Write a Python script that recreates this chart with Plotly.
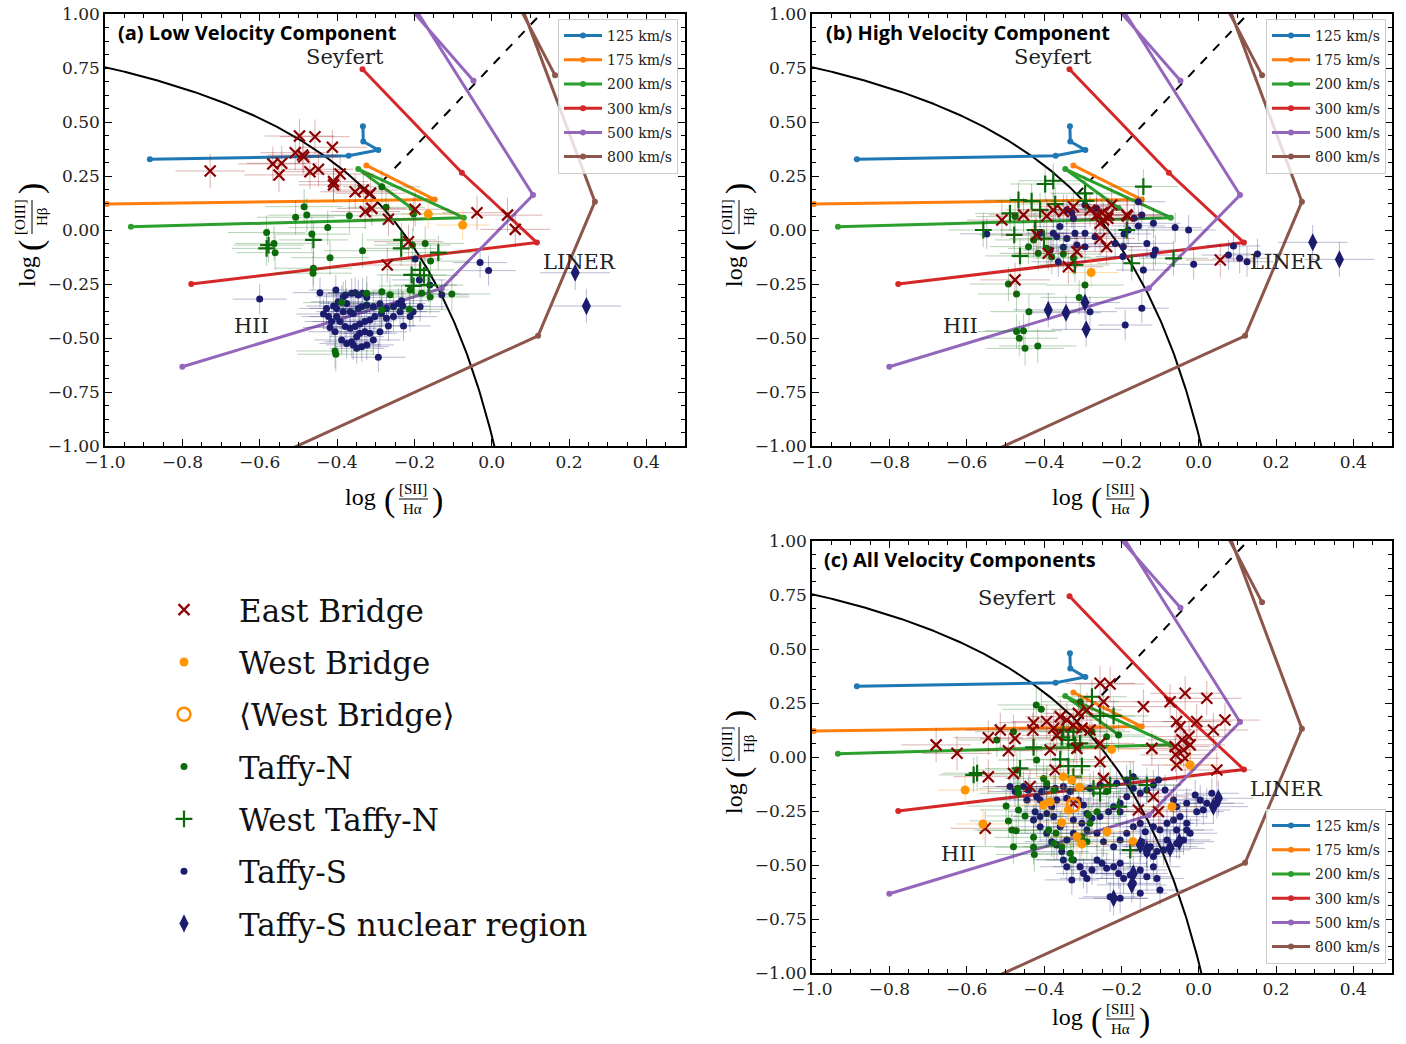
import numpy as np
import plotly.graph_objects as go

W, H = 1406, 1044

# ---------------- tick labels ----------------
X_TICKS = [-1.0, -0.8, -0.6, -0.4, -0.2, 0.0, 0.2, 0.4]
X_TICKTEXT = ["\u22121.0", "\u22120.8", "\u22120.6", "\u22120.4", "\u22120.2", "0.0", "0.2", "0.4"]
Y_TICKS = [-1.0, -0.75, -0.5, -0.25, 0.0, 0.25, 0.5, 0.75, 1.0]
Y_TICKTEXT = ["\u22121.00", "\u22120.75", "\u22120.50", "\u22120.25", "0.00", "0.25", "0.50", "0.75", "1.00"]

# ---------------- shock model grids ----------------
MODEL_LABELS = ["125 km/s", "175 km/s", "200 km/s", "300 km/s", "500 km/s", "800 km/s"]
MODEL_COLORS = ["#1f77b4", "#ff7f0e", "#2ca02c", "#d62728", "#9467bd", "#8c564b"]
MODEL_X = [
    [-0.884, -0.370, -0.293, -0.332, -0.333],
    [-0.995, -0.147, -0.324],
    [-0.933, -0.072, -0.345, -0.207],
    [-0.334, -0.077, 0.117, -0.777],
    [-0.047, -0.237, -0.217, 0.107, -0.129, -0.800],
    [-0.564, 0.120, 0.267, 0.064, 0.052, 0.164],
]
MODEL_Y = [
    [0.327, 0.344, 0.370, 0.410, 0.480],
    [0.120, 0.141, 0.299],
    [0.015, 0.057, 0.282, 0.102],
    [0.744, 0.265, -0.058, -0.250],
    [0.691, 1.080, 1.080, 0.162, -0.270, -0.633],
    [-1.050, -0.490, 0.131, 1.100, 1.100, 0.716],
]

# Kewley et al. (2001) maximum starburst line and Kewley et al. (2006) Seyfert/LINER line
K01_A, K01_B, K01_C = 0.72, 0.32, 1.30
K06_M, K06_B = 1.89, 0.76
K06_X0, K06_X1 = -0.315, 0.13

# ---------------- panel (a): low velocity component ----------------
EB_A = [(-0.497, 0.435), (-0.457, 0.432), (-0.412, 0.383), (-0.508, 0.358), (-0.489, 0.347), (-0.486, 0.338),
        (-0.566, 0.306), (-0.543, 0.309), (-0.550, 0.255), (-0.728, 0.273), (-0.470, 0.270), (-0.448, 0.281),
        (-0.409, 0.224), (-0.409, 0.209), (-0.392, 0.259), (-0.353, 0.177), (-0.332, 0.185), (-0.314, 0.170),
        (-0.327, 0.085), (-0.310, 0.100), (-0.267, 0.050), (-0.198, 0.096), (-0.038, 0.080), (0.041, 0.069),
        (0.061, 0.003), (-0.215, -0.054), (-0.270, -0.162)]
WB_A = [(-0.164, 0.074), (-0.075, 0.023)]
TN_A = [(-0.485, 0.108), (-0.507, 0.059), (-0.478, 0.069), (-0.368, 0.066), (-0.284, 0.200), (-0.273, 0.105),
        (-0.202, 0.074), (-0.582, -0.012), (-0.563, -0.062), (-0.465, -0.019), (-0.424, 0.011), (-0.418, -0.128),
        (-0.334, -0.096), (-0.172, -0.062), (-0.560, -0.105), (-0.461, -0.177), (-0.462, -0.200), (-0.205, -0.070),
        (-0.158, -0.144), (-0.323, -0.293), (-0.284, -0.286), (-0.263, -0.300), (-0.211, -0.278), (-0.181, -0.293),
        (-0.159, -0.310), (-0.103, -0.296), (-0.388, -0.336), (-0.405, -0.560), (-0.403, -0.575), (-0.284, -0.370),
        (-0.213, -0.367)]
WTN_A = [(-0.582, -0.085), (-0.577, -0.070), (-0.461, -0.046), (-0.233, -0.046), (-0.234, -0.085), (-0.138, -0.105),
         (-0.185, -0.185), (-0.207, -0.208), (-0.175, -0.210), (-0.202, -0.259), (-0.163, -0.255)]
TS_A = [(-0.444, -0.290), (-0.403, -0.278), (-0.427, -0.363), (-0.435, -0.389), (-0.422, -0.401), (-0.409, -0.352),
        (-0.401, -0.363), (-0.384, -0.309), (-0.378, -0.301), (-0.362, -0.293), (-0.353, -0.290), (-0.345, -0.301),
        (-0.334, -0.293), (-0.323, -0.312), (-0.375, -0.340), (-0.366, -0.378), (-0.358, -0.386), (-0.345, -0.363),
        (-0.336, -0.355), (-0.323, -0.347), (-0.306, -0.355), (-0.289, -0.342), (-0.272, -0.363), (-0.254, -0.355),
        (-0.241, -0.340), (-0.233, -0.327), (-0.230, -0.352), (-0.237, -0.378), (-0.254, -0.401), (-0.272, -0.409),
        (-0.285, -0.386), (-0.302, -0.401), (-0.315, -0.417), (-0.328, -0.424), (-0.341, -0.435), (-0.353, -0.447),
        (-0.366, -0.455), (-0.379, -0.447), (-0.392, -0.424), (-0.401, -0.401), (-0.414, -0.424), (-0.418, -0.451),
        (-0.405, -0.471), (-0.388, -0.509), (-0.375, -0.525), (-0.362, -0.517), (-0.349, -0.494), (-0.341, -0.478),
        (-0.328, -0.471), (-0.315, -0.478), (-0.306, -0.509), (-0.323, -0.532), (-0.336, -0.540), (-0.349, -0.548),
        (-0.358, -0.532), (-0.289, -0.471), (-0.267, -0.444), (-0.228, -0.444), (-0.211, -0.401), (-0.203, -0.378),
        (-0.185, -0.355), (-0.160, -0.255), (-0.293, -0.589), (-0.384, -0.378), (-0.397, -0.332), (-0.600, -0.320),
        (-0.030, -0.151), (-0.008, -0.188), (-0.198, -0.134), (-0.129, -0.300), (-0.187, -0.231)]
TSN_A = [(0.216, -0.198), (0.245, -0.352)]

# ---------------- panel (b): high velocity component ----------------
EB_B = [(-0.509, 0.046), (-0.453, 0.070), (-0.393, 0.065), (-0.376, 0.093), (-0.350, 0.085), (-0.324, 0.108),
        (-0.281, 0.093), (-0.264, 0.070), (-0.250, 0.080), (-0.246, 0.046), (-0.255, 0.031), (-0.235, 0.054),
        (-0.225, 0.116), (-0.233, 0.070), (-0.186, 0.070), (-0.255, -0.039), (-0.238, -0.077), (-0.315, -0.100),
        (-0.389, -0.108), (-0.337, -0.170), (-0.475, -0.231), (-0.419, -0.023), (-0.184, 0.065), (0.056, -0.139)]
WB_B = [(-0.278, -0.197)]
TN_B = [(-0.440, -0.077), (-0.415, -0.108), (-0.393, -0.085), (-0.380, -0.125), (-0.492, -0.250), (-0.471, -0.296),
        (-0.439, -0.378), (-0.471, -0.470), (-0.453, -0.466), (-0.464, -0.501), (-0.449, -0.548), (-0.416, -0.537),
        (-0.309, -0.312), (-0.294, -0.255), (-0.350, -0.111), (-0.324, -0.130), (-0.427, -0.046), (-0.475, 0.062)]
WTN_B = [(-0.397, 0.213), (-0.376, 0.228), (-0.466, 0.139), (-0.432, 0.134), (-0.488, 0.077), (-0.557, 0.000),
         (-0.477, -0.023), (-0.462, -0.120), (-0.410, 0.093), (-0.371, 0.120), (-0.294, 0.170), (-0.292, 0.135),
         (-0.320, -0.162), (-0.173, -0.154), (-0.423, 0.000), (-0.400, -0.040), (-0.143, 0.201), (-0.186, 0.000),
         (-0.065, -0.131)]
TS_B = [(-0.548, -0.018), (-0.410, -0.015), (-0.376, -0.015), (-0.367, -0.031), (-0.341, 0.093), (-0.328, 0.080),
        (-0.324, 0.054), (-0.359, 0.016), (-0.341, -0.039), (-0.320, -0.015), (-0.294, -0.015), (-0.294, 0.116),
        (-0.264, 0.100), (-0.315, -0.069), (-0.294, -0.077), (-0.268, -0.031), (-0.363, -0.147), (-0.350, -0.080),
        (-0.195, -0.077), (-0.196, -0.123), (-0.182, 0.000), (-0.216, -0.062), (-0.281, -0.378), (-0.190, -0.440),
        (-0.384, -0.093), (-0.156, 0.131), (-0.147, 0.070), (-0.167, 0.054), (-0.117, 0.031), (-0.156, 0.019),
        (-0.061, 0.011), (-0.026, 0.000), (-0.193, -0.018), (-0.134, -0.062), (-0.112, -0.093), (-0.117, -0.116),
        (-0.013, -0.159), (-0.143, -0.185), (-0.147, -0.362), (0.090, -0.074), (0.077, -0.116), (0.106, -0.131),
        (0.125, -0.147), (0.152, -0.111)]
TSN_B = [(-0.389, -0.370), (-0.343, -0.383), (-0.294, -0.336), (-0.291, -0.460), (0.295, -0.057), (0.364, -0.136)]

# ---------------- panel (c): all velocity components ----------------
EB_C = [(-0.679, 0.056), (-0.625, 0.017), (-0.544, 0.089), (-0.513, 0.125), (-0.475, 0.086), (-0.544, -0.091),
        (-0.552, -0.330), (-0.492, 0.029), (-0.479, -0.076), (-0.436, -0.137), (-0.427, 0.159), (-0.429, 0.125),
        (-0.393, 0.164), (-0.375, 0.133), (-0.367, 0.100), (-0.358, 0.187), (-0.341, 0.171), (-0.324, 0.148),
        (-0.311, 0.202), (-0.302, 0.133), (-0.289, 0.218), (-0.281, 0.125), (-0.255, 0.341), (-0.229, 0.338),
        (-0.246, 0.256), (-0.384, 0.032), (-0.315, 0.040), (-0.255, 0.063), (-0.255, -0.022), (-0.246, -0.099),
        (-0.371, -0.060), (-0.324, -0.214), (-0.143, 0.233), (-0.074, 0.256), (-0.035, 0.295), (0.021, 0.272),
        (-0.057, 0.164), (-0.048, 0.140), (-0.005, 0.164), (0.038, 0.125), (0.068, 0.171), (-0.121, 0.040),
        (-0.061, 0.048), (-0.039, 0.032), (-0.022, 0.056), (-0.035, -0.006), (-0.057, -0.037), (0.047, -0.060),
        (-0.117, -0.184), (-0.156, -0.245), (-0.104, -0.253), (-0.043, 0.080), (-0.025, 0.095), (-0.060, 0.010)]
WB_C = [(-0.604, -0.153), (-0.558, -0.310), (-0.350, -0.091), (-0.328, -0.107), (-0.308, -0.140), (-0.225, 0.035),
        (-0.401, -0.222), (-0.384, -0.207), (-0.337, -0.245), (-0.354, -0.304), (-0.315, -0.369), (-0.302, -0.403),
        (-0.237, -0.346), (-0.170, -0.392), (-0.069, -0.230), (-0.022, -0.037)]
WBAVG_C = [(-0.324, -0.222)]
TN_C = [(-0.420, 0.241), (-0.407, 0.221), (-0.479, 0.117), (-0.522, 0.079), (-0.419, -0.014), (-0.470, -0.060),
        (-0.401, -0.099), (-0.468, -0.145), (-0.466, -0.168), (-0.498, -0.227), (-0.466, -0.245), (-0.449, -0.273),
        (-0.492, -0.296), (-0.483, -0.338), (-0.472, -0.341), (-0.479, -0.415), (-0.427, -0.372), (-0.427, -0.418),
        (-0.425, -0.451), (-0.388, -0.338), (-0.374, -0.400), (-0.369, -0.353), (-0.354, -0.415), (-0.332, -0.446),
        (-0.328, -0.474), (-0.302, -0.369), (-0.289, -0.392), (-0.281, -0.307), (-0.285, -0.268), (-0.263, -0.253),
        (-0.238, -0.160), (-0.238, 0.094), (-0.207, 0.102), (-0.306, 0.256), (-0.276, 0.117), (-0.375, -0.153),
        (-0.393, -0.122)]
WTN_C = [(-0.582, -0.083), (-0.573, -0.075), (-0.462, -0.053), (-0.354, 0.091), (-0.337, 0.079), (-0.324, 0.117),
         (-0.350, 0.125), (-0.320, 0.056), (-0.307, 0.063), (-0.276, 0.279), (-0.358, -0.011), (-0.337, -0.042),
         (-0.302, -0.042), (-0.324, -0.091), (-0.255, 0.190), (-0.220, 0.190), (-0.272, -0.145), (-0.255, -0.168),
         (-0.177, -0.099), (-0.207, -0.230), (-0.134, -0.130), (-0.177, -0.431), (-0.229, -0.130), (-0.427, 0.045)]
TS_C = [(-0.488, -0.137), (-0.475, -0.160), (-0.453, -0.137), (-0.440, -0.153), (-0.419, -0.184), (-0.406, -0.160),
        (-0.393, -0.137), (-0.371, -0.145), (-0.350, -0.137), (-0.332, -0.160), (-0.341, -0.191), (-0.367, -0.199),
        (-0.380, -0.230), (-0.393, -0.261), (-0.410, -0.276), (-0.423, -0.253), (-0.427, -0.292), (-0.410, -0.323),
        (-0.393, -0.353), (-0.380, -0.392), (-0.367, -0.407), (-0.354, -0.438), (-0.350, -0.477), (-0.341, -0.508),
        (-0.324, -0.477), (-0.307, -0.508), (-0.298, -0.539), (-0.328, -0.569), (-0.289, -0.562), (-0.276, -0.523),
        (-0.263, -0.477), (-0.250, -0.492), (-0.238, -0.515), (-0.220, -0.508), (-0.203, -0.492), (-0.207, -0.539),
        (-0.194, -0.562), (-0.177, -0.546), (-0.169, -0.585), (-0.151, -0.523), (-0.134, -0.554), (-0.117, -0.508),
        (-0.108, -0.562), (-0.100, -0.616), (-0.151, -0.631), (-0.203, -0.654), (-0.229, -0.647), (-0.220, -0.415),
        (-0.203, -0.384), (-0.186, -0.353), (-0.169, -0.323), (-0.151, -0.307), (-0.138, -0.346), (-0.117, -0.323),
        (-0.100, -0.338), (-0.082, -0.307), (-0.065, -0.292), (-0.048, -0.276), (-0.031, -0.307), (-0.022, -0.353),
        (-0.039, -0.384), (-0.057, -0.400), (-0.074, -0.415), (-0.091, -0.430), (-0.108, -0.438), (-0.125, -0.415),
        (-0.147, -0.392), (-0.134, -0.446), (-0.117, -0.461), (-0.082, -0.384), (-0.057, -0.338), (-0.031, -0.338),
        (-0.005, -0.253), (0.012, -0.245), (0.021, -0.214), (0.004, -0.199), (0.034, -0.168), (0.047, -0.214),
        (-0.009, -0.176), (-0.031, -0.214), (-0.057, -0.230), (-0.065, -0.199), (-0.087, -0.153), (-0.104, -0.106),
        (-0.117, -0.130), (-0.134, -0.153), (-0.151, -0.168), (-0.169, -0.145), (-0.186, -0.184), (-0.203, -0.214),
        (-0.220, -0.230), (-0.233, -0.253), (-0.255, -0.276), (-0.276, -0.284), (-0.289, -0.261), (-0.298, -0.222),
        (-0.311, -0.199), (-0.281, -0.145), (-0.255, -0.130), (-0.212, -0.122), (-0.186, -0.106), (-0.169, -0.091),
        (-0.203, -0.253), (-0.302, -0.307), (-0.324, -0.292), (-0.263, -0.353), (-0.246, -0.392), (-0.324, -0.353),
        (-0.289, -0.338), (-0.375, -0.276), (-0.358, -0.323), (-0.341, -0.384), (-0.410, -0.199), (-0.444, -0.199)]
TSN_C = [(0.051, -0.191), (0.038, -0.230), (-0.050, -0.392), (-0.074, -0.423), (-0.169, -0.539), (-0.173, -0.592),
         (-0.220, -0.654), (-0.151, -0.407), (-0.134, -0.430)]

# typical 1-sigma uncertainties per sample (x, y)
ERR_EB = (0.09, 0.08)
ERR_WB = (0.07, 0.07)
ERR_TN = (0.10, 0.08)
ERR_WTN = (0.09, 0.08)
ERR_TS = (0.07, 0.07)
ERR_TSN = (0.09, 0.08)

# ---------------- styling ----------------
SERIF = "DejaVu Serif"
SERIF2 = "Liberation Serif"
C_EB, C_WB, C_TN, C_TS = "#8b0000", "#ff9500", "#0b6b0b", "#1c1c6e"
E_EB, E_WB, E_TN, E_TS = "rgba(139,0,0,0.30)", "rgba(255,150,0,0.35)", "rgba(11,107,11,0.30)", "rgba(28,28,110,0.30)"

GROUPS = [
    # key, name, color, errcolor, symbol, size, linewidth, err
    ("EB", "East Bridge", C_EB, E_EB, "x-thin", 11, 2.2, ERR_EB),
    ("WB", "West Bridge", C_WB, E_WB, "circle", 9, 0, ERR_WB),
    ("WBAVG", "\u27e8West Bridge\u27e9", "#ff8c00", E_WB, "circle-open", 13, 2.5, None),
    ("TN", "Taffy-N", C_TN, E_TN, "circle", 7, 0, ERR_TN),
    ("WTN", "West Taffy-N", C_TN, E_TN, "cross-thin", 12, 2.2, ERR_WTN),
    ("TS", "Taffy-S", C_TS, E_TS, "circle", 7, 0, ERR_TS),
    ("TSN", "Taffy-S nuclear region", C_TS, E_TS, "diamond-tall", 13, 0, ERR_TSN),
]

PANEL_DATA = [
    {"EB": EB_A, "WB": WB_A, "WBAVG": [], "TN": TN_A, "WTN": WTN_A, "TS": TS_A, "TSN": TSN_A},
    {"EB": EB_B, "WB": WB_B, "WBAVG": [], "TN": TN_B, "WTN": WTN_B, "TS": TS_B, "TSN": TSN_B},
    {"EB": EB_C, "WB": WB_C, "WBAVG": WBAVG_C, "TN": TN_C, "WTN": WTN_C, "TS": TS_C, "TSN": TSN_C},
]
# draw order inside each panel
DRAW_ORDER = ["TS", "TN", "WTN", "EB", "WB", "WBAVG", "TSN"]

PANELS = [
    dict(xa="x", ya="y", xd=[105 / W, 685 / W], yd=[1 - 446 / H, 1 - 14 / H], legend="legend",
         title="(a) Low Velocity Component", tpos=(116, 32), dx=0, dy=0, ldy=0,
         regions=[("Seyfert", -0.379, 0.800), ("LINER", 0.226, -0.148), ("HII", -0.620, -0.444)]),
    dict(xa="x2", ya="y2", xd=[812 / W, 1392 / W], yd=[1 - 446 / H, 1 - 14 / H], legend="legend2",
         title="(b) High Velocity Component", tpos=(824, 32), dx=707, dy=0, ldy=0,
         regions=[("Seyfert", -0.376, 0.800), ("LINER", 0.226, -0.148), ("HII", -0.617, -0.444)]),
    dict(xa="x3", ya="y3", xd=[812 / W, 1392 / W], yd=[1 - 973 / H, 1 - 541 / H], legend="legend3",
         title="(c) All Velocity Components", tpos=(822, 559), dx=707, dy=527, ldy=520,
         regions=[("Seyfert", -0.470, 0.735), ("LINER", 0.226, -0.148), ("HII", -0.622, -0.449)]),
]

fig = go.Figure()

k01_x = np.linspace(-1.05, 0.012, 300)
k01_y = K01_A / (k01_x - K01_B) + K01_C
k06_x = np.array([K06_X0, K06_X1])
k06_y = K06_M * k06_x + K06_B

for pi, P in enumerate(PANELS):
    xa, ya = P["xa"], P["ya"]
    fig.add_trace(go.Scatter(x=k01_x, y=k01_y, mode="lines", line=dict(color="black", width=2),
                             xaxis=xa, yaxis=ya, showlegend=False, hoverinfo="skip"))
    fig.add_trace(go.Scatter(x=k06_x, y=k06_y, mode="lines", line=dict(color="black", width=2, dash="dash"),
                             xaxis=xa, yaxis=ya, showlegend=False, hoverinfo="skip"))
    for mi, lab in enumerate(MODEL_LABELS):
        fig.add_trace(go.Scatter(x=MODEL_X[mi], y=MODEL_Y[mi], mode="lines+markers", name=lab,
                                 line=dict(color=MODEL_COLORS[mi], width=3),
                                 marker=dict(color=MODEL_COLORS[mi], size=6),
                                 xaxis=xa, yaxis=ya, legend=P["legend"], legendgroup=f"{pi}_{mi}",
                                 showlegend=True))
    gdict = {g[0]: g for g in GROUPS}
    for key in DRAW_ORDER:
        _, name, col, ecol, sym, size, lw, err = gdict[key]
        pts = PANEL_DATA[pi][key]
        if len(pts) == 0:
            continue
        xs = [p[0] for p in pts]
        ys = [p[1] for p in pts]
        show = (pi == 2)
        mk = dict(symbol=sym, size=size, color=col)
        if lw:
            mk["line"] = dict(color=col, width=lw)
        tr = dict(x=xs, y=ys, mode="markers", name=name, marker=mk, xaxis=xa, yaxis=ya,
                  showlegend=show, legend="legend4", legendgroup="d_" + key)
        if err is not None:
            tr["error_x"] = dict(type="constant", value=err[0], color=ecol, thickness=1, width=0)
            tr["error_y"] = dict(type="constant", value=err[1], color=ecol, thickness=1, width=0)
        fig.add_trace(go.Scatter(**tr))

# legend4 entries in the reference order
legend_rank = {g[0]: i for i, g in enumerate(GROUPS)}
for tr in fig.data:
    if tr.legendgroup and tr.legendgroup.startswith("d_"):
        tr.legendrank = 100 + legend_rank[tr.legendgroup[2:]]

# ---------------- axes ----------------
def xaxis_spec(dom, anchor):
    return dict(domain=dom, anchor=anchor, range=[-1.0, 0.5], tickmode="array", tickvals=X_TICKS,
                ticktext=X_TICKTEXT, ticks="inside", ticklen=7, tickwidth=1.2, tickcolor="black",
                showline=True, linecolor="black", linewidth=1.5, mirror="allticks", showgrid=False,
                zeroline=False, automargin=False, tickfont=dict(family=SERIF, size=17, color="#222"),
                minor=dict(tickmode="linear", tick0=-1.0, dtick=0.05, ticks="inside", ticklen=4,
                           tickcolor="black", tickwidth=1, showgrid=False))


def yaxis_spec(dom, anchor):
    return dict(domain=dom, anchor=anchor, range=[-1.0, 1.0], tickmode="array", tickvals=Y_TICKS,
                ticktext=Y_TICKTEXT, ticks="inside", ticklen=7, tickwidth=1.2, tickcolor="black",
                showline=True, linecolor="black", linewidth=1.5, mirror="allticks", showgrid=False,
                zeroline=False, automargin=False, tickfont=dict(family=SERIF, size=17, color="#222"),
                minor=dict(tickmode="linear", tick0=-1.0, dtick=0.0625, ticks="inside", ticklen=4,
                           tickcolor="black", tickwidth=1, showgrid=False))


layout_axes = {}
for i, P in enumerate(PANELS):
    sfx = "" if i == 0 else str(i + 1)
    layout_axes["xaxis" + sfx] = xaxis_spec(P["xd"], P["ya"])
    layout_axes["yaxis" + sfx] = yaxis_spec(P["yd"], P["xa"])

# ---------------- annotations / shapes ----------------
def PX(px):
    return px / W


def PY(py):
    return 1 - py / H


ann = []
shapes = []
for P in PANELS:
    ann.append(dict(text="<b>" + P["title"] + "</b>", x=PX(P["tpos"][0]), y=PY(P["tpos"][1]),
                    xref="paper", yref="paper", xanchor="left", yanchor="middle", showarrow=False,
                    font=dict(family="Open Sans", size=20, color="black")))
    for txt, rx, ry in P["regions"]:
        ann.append(dict(text=txt, x=rx, y=ry, xref=P["xa"], yref=P["ya"], showarrow=False,
                        xanchor="center", yanchor="middle", font=dict(family=SERIF, size=21, color="#222")))
    dx, dy, ldy = P["dx"], P["dy"], P["ldy"]
    # x label: log ( [SII] / Halpha )
    for txt, cx, cy, fs in [("log", 360, 497, 24), ("(", 389, 500, 34), (")", 437, 500, 34),
                            ("[SII]", 413, 489, 15), ("H\u03b1", 413, 509, 15)]:
        ann.append(dict(text=txt, x=PX(cx + dx), y=PY(cy + ldy), xref="paper", yref="paper", showarrow=False,
                        xanchor="center", yanchor="middle", font=dict(family=SERIF2, size=fs, color="black")))
    shapes.append(dict(type="line", xref="paper", yref="paper", x0=PX(399 + dx), x1=PX(428 + dx),
                       y0=PY(499 + ldy), y1=PY(499 + ldy), line=dict(color="black", width=1)))
    # y label: log ( [OIII] / Hbeta ), rotated
    for txt, cx, cy, fs in [("log", 27, 272, 24), ("(", 31, 246, 34), (")", 31, 189, 34),
                            ("[OIII]", 20, 217, 15), ("H\u03b2", 42, 217, 15)]:
        ann.append(dict(text=txt, x=PX(cx + dx), y=PY(cy + dy), xref="paper", yref="paper", showarrow=False,
                        textangle=-90, xanchor="center", yanchor="middle",
                        font=dict(family=SERIF2, size=fs, color="black")))
    shapes.append(dict(type="line", xref="paper", yref="paper", x0=PX(32 + dx), x1=PX(32 + dx),
                       y0=PY(200 + dy), y1=PY(234 + dy), line=dict(color="black", width=1)))

model_legend = dict(font=dict(family=SERIF, size=14, color="#222"), bgcolor="rgba(255,255,255,0.8)",
                    bordercolor="#cccccc", borderwidth=1, traceorder="grouped", tracegroupgap=3,
                    itemwidth=38)

fig.update_layout(
    width=W, height=H, margin=dict(l=0, r=0, t=0, b=0),
    paper_bgcolor="white", plot_bgcolor="white", hovermode=False,
    annotations=ann, shapes=shapes,
    legend=dict(x=PX(678), y=PY(19), xanchor="right", yanchor="top", **model_legend),
    legend2=dict(x=PX(1386), y=PY(19), xanchor="right", yanchor="top", **model_legend),
    legend3=dict(x=PX(1386), y=PY(964), xanchor="right", yanchor="bottom", **model_legend),
    legend4=dict(x=PX(129), y=PY(583), xanchor="left", yanchor="top", bgcolor="rgba(0,0,0,0)",
                 font=dict(family=SERIF, size=31, color="#111"), traceorder="grouped",
                 itemwidth=100, tracegroupgap=9),
    **layout_axes,
)

fig.write_html("out.html", config={"displayModeBar": False},
               post_script="document.body.style.margin='0px';")
